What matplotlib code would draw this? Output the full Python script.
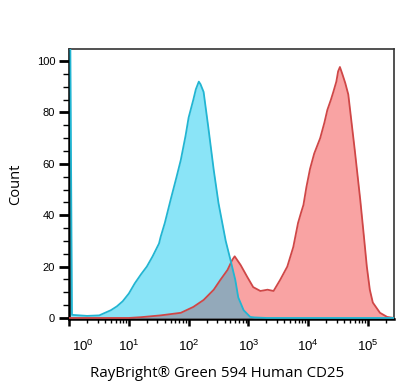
import numpy as np
import matplotlib
matplotlib.use("Agg")
import matplotlib.pyplot as plt
import matplotlib.transforms as mtransforms
from matplotlib.ticker import FixedLocator, NullFormatter

# unstained / isotype (cyan) histogram
cyan_x = [1.0, 1.05, 1.12, 2.0, 3.2, 4.0, 5.0, 6.3, 7.9, 10, 12.6, 16, 20, 25, 32, 34, 40, 50,
          63, 74, 89, 100, 120, 132, 148, 158, 178, 214, 263, 316, 417, 501, 603, 676, 832,
          1072, 1259, 2000, 270000]
cyan_y = [110, 110, 1.2, 0.8, 1.0, 2.0, 3.0, 4.5, 6.5, 9.5, 13.5, 17, 20, 24, 29, 31.5, 37, 46,
          55, 61.5, 71, 78, 85, 89, 92, 91, 88, 74, 57.6, 44.7, 30, 22.6, 14.8, 8, 3,
          0.4, 0.2, 0, 0]

# stained (red) histogram
red_x = [1.0, 10, 16, 34, 74, 120, 178, 263, 339, 447, 537, 589, 741, 955, 1202, 1585,
         2089, 2630, 3388, 4467, 5623, 6761, 7586, 8318, 9333, 10715, 12589, 15849, 18621,
         20893, 23988, 26303, 29512, 31623, 33884, 37154, 41687, 46774, 52481, 60256,
         74131, 85114, 95499, 107152, 120226, 158489, 208930, 270000]
red_y = [0, 0, 0.3, 1, 2, 4.3, 7, 11, 14.8, 18.7, 22.6, 24, 20.6, 16, 12, 10.5,
         11, 10.5, 14.8, 20, 27.6, 37, 41, 44, 51, 58, 64, 70, 76,
         81, 85, 88, 92, 96, 97.7, 95, 91.4, 87, 77, 65,
         46, 32, 20, 11, 6, 2, 0.4, 0]

x_ticks = [1, 10, 100, 1000, 10000, 100000]
x_ticklabels = ["$10^{0}$", "$10^{1}$", "$10^{2}$", "$10^{3}$", "$10^{4}$", "$10^{5}$"]
y_ticks = [0, 20, 40, 60, 80, 100]

plt.rcParams['font.family'] = ['Liberation Sans', 'DejaVu Sans']
plt.rcParams['mathtext.fontset'] = 'custom'
plt.rcParams['mathtext.rm'] = 'Liberation Sans'

fig = plt.figure(figsize=(4.06, 3.89), dpi=100)
ax = fig.add_axes([0.170, 0.180, 0.800, 0.694])
ax.set_xscale('log')

cyan_fill = '#8ae4f7'
cyan_line = '#22b5d2'
red_fill = '#f9a3a3'
red_line = '#cf4747'
mix_fill = '#93a9ba'

ax.fill_between(cyan_x, 0, cyan_y, color=cyan_fill, lw=0, zorder=1)
ax.fill_between(red_x, 0, red_y, color=red_fill, lw=0, zorder=2)

# overlap region (looks like a multiply blend of the two fills)
grid = np.logspace(0, np.log10(270000), 1500)
c_i = np.interp(np.log10(grid), np.log10(cyan_x), cyan_y)
r_i = np.interp(np.log10(grid), np.log10(red_x), red_y)
ax.fill_between(grid, 0, np.minimum(c_i, r_i), color=mix_fill, lw=0, zorder=3)

ax.plot(red_x, red_y, color=red_line, lw=1.3, zorder=4)
ax.plot(cyan_x, cyan_y, color=cyan_line, lw=1.3, zorder=5)

ax.set_xlim(1.0, 270000)
ax.set_ylim(-0.4, 104.7)

ax.xaxis.set_major_locator(FixedLocator(x_ticks))
ax.set_xticklabels(x_ticklabels)
minor = [m * d for d in [1, 10, 100, 1000, 10000, 100000] for m in range(2, 10)]
ax.xaxis.set_minor_locator(FixedLocator([v for v in minor if v < 270000]))
ax.xaxis.set_minor_formatter(NullFormatter())
ax.set_yticks(y_ticks)
ax.set_yticks(np.arange(0, 105, 5), minor=True)

ax.tick_params(axis='x', which='major', direction='out', length=5, width=1.8,
               labelsize=9.5, pad=9)
ax.tick_params(axis='x', which='minor', direction='out', length=3, width=1)
ax.tick_params(axis='y', which='major', direction='out', length=7, width=2,
               labelsize=8, pad=3)
ax.tick_params(axis='y', which='minor', direction='out', length=4, width=1)

# first decade label sits a bit to the right of the axis corner
lab0 = ax.get_xticklabels()[0]
lab0.set_transform(lab0.get_transform() +
                   mtransforms.ScaledTranslation(10 / 72, 0, fig.dpi_scale_trans))

for s in ['left', 'bottom']:
    ax.spines[s].set_linewidth(1.8)
for s in ['top', 'right']:
    ax.spines[s].set_linewidth(1.2)
    ax.spines[s].set_color('#333333')

ax.set_ylabel("Count", family=['Open Sans', 'DejaVu Sans'], fontsize=10.5, labelpad=10)
ax.set_xlabel("RayBright® Green 594 Human CD25", family=['Open Sans', 'DejaVu Sans'],
              fontsize=10.8)
ax.xaxis.set_label_coords(0.455, -0.175)

fig.savefig("out.png", dpi=100)
